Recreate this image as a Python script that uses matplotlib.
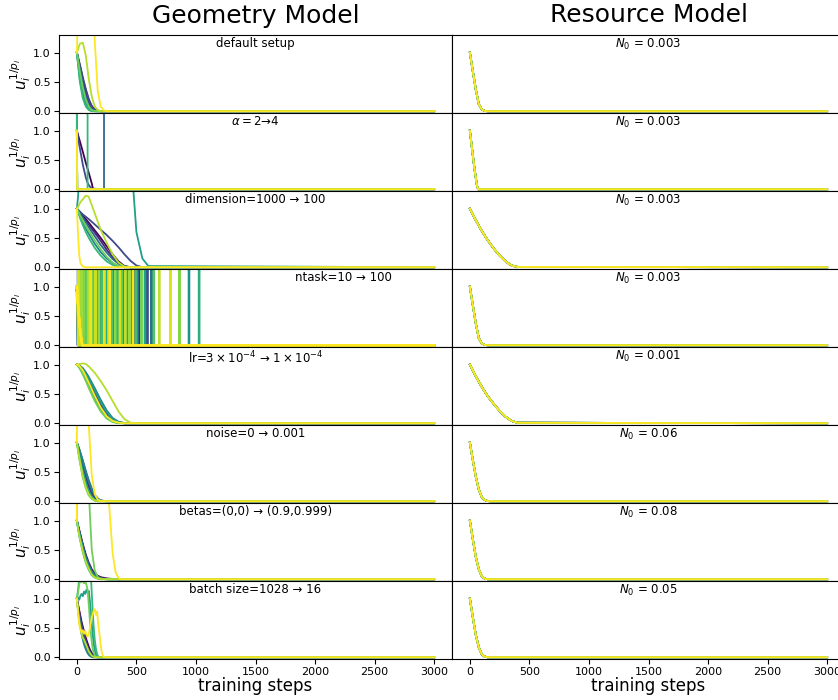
import matplotlib
matplotlib.use("Agg")
import matplotlib.pyplot as plt
import numpy as np

# ---- panel labels -------------------------------------------------------
GEOM_LABELS = [
    "default setup",
    r"$\alpha=2$→4",
    "dimension=1000 → 100",
    "ntask=10 → 100",
    r"lr=$3\times10^{-4}$ → $1\times10^{-4}$",
    "noise=0 → 0.001",
    "betas=(0,0) → (0.9,0.999)",
    "batch size=1028 → 16",
]
# horizontal placement (axes fraction) of each label
GEOM_LABEL_X = [0.5, 0.5, 0.5, 0.723, 0.5, 0.5, 0.5, 0.5]
N0_VALUES = ["0.003", "0.003", "0.003", "0.003", "0.001", "0.06", "0.08", "0.05"]

# ---- geometry model: per-task u_i^{1/p_i} traces (10 tasks per run) -----
DEFAULT_STEPS = [0, 25, 50, 75, 100, 125, 150, 175, 200, 225, 250, 300, 3000]
DEFAULT_U = [
    [1.0, 0.78, 0.55, 0.36, 0.20, 0.09, 0.03, 0.01, 0, 0, 0, 0, 0],
    [1.0, 0.74, 0.50, 0.30, 0.15, 0.06, 0.02, 0.005, 0, 0, 0, 0, 0],
    [1.0, 0.80, 0.58, 0.38, 0.20, 0.08, 0.03, 0.01, 0, 0, 0, 0, 0],
    [1.0, 0.70, 0.45, 0.25, 0.10, 0.03, 0.01, 0, 0, 0, 0, 0, 0],
    [1.0, 0.62, 0.35, 0.17, 0.06, 0.02, 0, 0, 0, 0, 0, 0, 0],
    [1.0, 0.55, 0.28, 0.12, 0.04, 0.01, 0, 0, 0, 0, 0, 0, 0],
    [1.0, 0.50, 0.22, 0.08, 0.02, 0, 0, 0, 0, 0, 0, 0, 0],
    [1.0, 0.68, 0.40, 0.20, 0.08, 0.02, 0.005, 0, 0, 0, 0, 0, 0],
    [1.0, 1.15, 1.17, 0.95, 0.55, 0.25, 0.08, 0.02, 0, 0, 0, 0, 0],
    [1.0, 3.0, 5.0, 5.0, 5.0, 5.0, 1.2, 0.35, 0.08, 0.02, 0, 0, 0],
]

ALPHA_STEPS = [0, 3, 5, 25, 50, 75, 88, 90, 100, 125, 135, 226, 228, 3000]
ALPHA_U = [
    [1.0, 0.98, 0.96, 0.82, 0.64, 0.45, 0.36, 0.35, 0.28, 0.10, 0.01, 0, 0, 0],
    [1.0, 0, 0, 0, 0, 0, 0, 0, 0, 0, 0, 0, 0, 0],
    [1.0, 0.97, 0.94, 0.70, 0.42, 0.20, 0.12, 0.11, 0.07, 0.01, 0, 0, 0, 0],
    [1.0, 1000, 1000, 1000, 1000, 1000, 1000, 1000, 1000, 1000, 1000, 1000, 0, 0],
    [1.0, 0, 0, 0, 0, 0, 0, 0, 0, 0, 0, 0, 0, 0],
    [1.0, 0, 0, 0, 0, 0, 0, 0, 0, 0, 0, 0, 0, 0],
    [1.0, 1000, 1000, 1000, 1000, 1000, 1000, 0, 0, 0, 0, 0, 0, 0],
    [1.0, 0, 0, 0, 0, 0, 0, 0, 0, 0, 0, 0, 0, 0],
    [1.0, 0, 0, 0, 0, 0, 0, 0, 0, 0, 0, 0, 0, 0],
    [1.0, 0, 0, 0, 0, 0, 0, 0, 0, 0, 0, 0, 0, 0],
]

DIM_STEPS = [0, 10, 20, 30, 50, 75, 100, 150, 200, 250, 300, 350, 400, 450, 500, 550, 600, 3000]
DIM_U = [
    [1.0, 0.97, 0.95, 0.93, 0.88, 0.82, 0.76, 0.63, 0.50, 0.36, 0.22, 0.10, 0.02, 0, 0, 0, 0, 0],
    [1.0, 0.97, 0.94, 0.91, 0.86, 0.79, 0.72, 0.59, 0.45, 0.30, 0.17, 0.07, 0.015, 0, 0, 0, 0, 0],
    [1.0, 0.98, 0.96, 0.94, 0.90, 0.86, 0.82, 0.73, 0.64, 0.55, 0.45, 0.34, 0.22, 0.11, 0.03, 0, 0, 0],
    [1.0, 0.97, 0.94, 0.90, 0.84, 0.76, 0.68, 0.53, 0.38, 0.25, 0.14, 0.06, 0.02, 0, 0, 0, 0, 0],
    [1.0, 0.95, 0.90, 0.85, 0.76, 0.66, 0.57, 0.40, 0.26, 0.15, 0.07, 0.02, 0, 0, 0, 0, 0, 0],
    [1.0, 1.2, 1.6, 3.0, 5.0, 5.0, 5.0, 5.0, 5.0, 5.0, 5.0, 5.0, 5.0, 2.0, 0.6, 0.15, 0.02, 0],
    [1.0, 0.94, 0.88, 0.82, 0.72, 0.60, 0.50, 0.33, 0.20, 0.10, 0.04, 0.01, 0, 0, 0, 0, 0, 0],
    [1.0, 0.96, 0.92, 0.87, 0.80, 0.71, 0.62, 0.46, 0.31, 0.18, 0.08, 0.02, 0, 0, 0, 0, 0, 0],
    [1.0, 1.03, 1.07, 1.11, 1.16, 1.22, 1.20, 0.92, 0.64, 0.42, 0.22, 0.08, 0.01, 0, 0, 0, 0, 0],
    [1.0, 0.55, 0.20, 0.07, 0.01, 0, 0, 0, 0, 0, 0, 0, 0, 0, 0, 0, 0, 0],
]

# 100-task run: early decay shared by all tasks, then the step where each task blows up
NTASK_DECAY_STEPS = [0, 15, 30, 45]
NTASK_DECAY_U = [1.0, 0.55, 0.2, 0.0]
NTASK_SPIKES = [
    None, 62, 410, 15, 180, 95, None, 330, 48, 255,
    140, None, 520, 72, 365, 22, 205, 118, None, 445,
    88, 300, 160, None, 590, 35, 238, 128, 480, 55,
    190, None, 350, 102, 270, 8, 625, 150, 395, None,
    78, 220, 455, 42, 172, 315, None, 112, 505, 260,
    940, 66, 385, 198, 28, 282, 135, None, 570, 92,
    425, 245, 52, 1025, 165, 340, 108, None, 212, 495,
    18, 290, 645, 145, None, 375, 82, 230, 540, 125,
    60, 860, 320, 185, 440, 38, 265, None, 98, 690,
    405, 155, 12, 360, 785, 228, 115, 470, None, 275,
]

LR_STEPS = [0, 25, 50, 75, 100, 150, 200, 250, 300, 350, 400, 450, 500, 3000]
LR_U = [
    [1.0, 0.97, 0.91, 0.82, 0.72, 0.50, 0.30, 0.14, 0.05, 0.01, 0, 0, 0, 0],
    [1.0, 0.96, 0.89, 0.80, 0.70, 0.48, 0.28, 0.13, 0.04, 0.01, 0, 0, 0, 0],
    [1.0, 0.97, 0.92, 0.84, 0.75, 0.54, 0.33, 0.16, 0.06, 0.015, 0, 0, 0, 0],
    [1.0, 0.95, 0.87, 0.77, 0.66, 0.44, 0.25, 0.11, 0.03, 0.005, 0, 0, 0, 0],
    [1.0, 0.98, 0.94, 0.87, 0.79, 0.60, 0.40, 0.22, 0.09, 0.025, 0.005, 0, 0, 0],
    [1.0, 0.97, 0.92, 0.84, 0.76, 0.56, 0.36, 0.19, 0.07, 0.02, 0, 0, 0, 0],
    [1.0, 0.94, 0.85, 0.74, 0.63, 0.41, 0.23, 0.10, 0.03, 0.005, 0, 0, 0, 0],
    [1.0, 0.93, 0.83, 0.72, 0.60, 0.38, 0.20, 0.08, 0.02, 0, 0, 0, 0, 0],
    [1.0, 1.01, 1.02, 1.01, 0.97, 0.86, 0.72, 0.56, 0.38, 0.20, 0.07, 0.01, 0, 0],
    [1.0, 0.97, 0.90, 0.80, 0.69, 0.47, 0.27, 0.12, 0.04, 0.01, 0, 0, 0, 0],
]

NOISE_STEPS = [0, 10, 25, 50, 75, 95, 100, 125, 150, 175, 200, 250, 3000]
NOISE_U = [
    [1.0, 0.93, 0.82, 0.62, 0.43, 0.30, 0.27, 0.15, 0.07, 0.03, 0.01, 0, 0],
    [1.0, 0.92, 0.80, 0.60, 0.41, 0.28, 0.25, 0.13, 0.06, 0.02, 0.005, 0, 0],
    [1.0, 0.94, 0.85, 0.68, 0.50, 0.37, 0.34, 0.20, 0.10, 0.04, 0.01, 0, 0],
    [1.0, 0.94, 0.84, 0.66, 0.48, 0.35, 0.32, 0.18, 0.09, 0.03, 0.01, 0, 0],
    [1.0, 0.95, 0.86, 0.70, 0.52, 0.39, 0.36, 0.22, 0.11, 0.05, 0.015, 0, 0],
    [1.0, 0.90, 0.75, 0.52, 0.33, 0.20, 0.18, 0.08, 0.03, 0.01, 0, 0, 0],
    [1.0, 0.88, 0.70, 0.45, 0.26, 0.15, 0.13, 0.05, 0.015, 0, 0, 0, 0],
    [1.0, 0.86, 0.67, 0.40, 0.22, 0.12, 0.10, 0.04, 0.01, 0, 0, 0, 0],
    [1.0, 0.87, 0.69, 0.43, 0.24, 0.14, 0.12, 0.05, 0.015, 0, 0, 0, 0],
    [1.0, 4.0, 6.0, 6.0, 6.0, 6.0, 1.3, 0.45, 0.12, 0.03, 0.005, 0, 0],
]

BETAS_STEPS = [0, 5, 10, 25, 50, 75, 100, 105, 125, 150, 175, 200, 250, 270, 300, 325, 350, 375, 3000]
BETAS_U = [
    [1.0, 0.96, 0.92, 0.80, 0.60, 0.42, 0.28, 0.26, 0.17, 0.10, 0.06, 0.035, 0.015, 0.01, 0.005, 0.002, 0, 0, 0],
    [1.0, 0.95, 0.90, 0.77, 0.56, 0.38, 0.24, 0.22, 0.13, 0.07, 0.035, 0.015, 0.005, 0, 0, 0, 0, 0, 0],
    [1.0, 0.96, 0.92, 0.79, 0.58, 0.40, 0.26, 0.24, 0.15, 0.08, 0.04, 0.02, 0.005, 0, 0, 0, 0, 0, 0],
    [1.0, 0.95, 0.89, 0.75, 0.53, 0.35, 0.21, 0.19, 0.11, 0.05, 0.02, 0.008, 0, 0, 0, 0, 0, 0, 0],
    [1.0, 0.95, 0.90, 0.76, 0.55, 0.37, 0.23, 0.21, 0.12, 0.06, 0.03, 0.01, 0, 0, 0, 0, 0, 0, 0],
    [1.0, 0.94, 0.88, 0.72, 0.50, 0.32, 0.19, 0.17, 0.09, 0.04, 0.015, 0.005, 0, 0, 0, 0, 0, 0, 0],
    [1.0, 0.93, 0.86, 0.69, 0.46, 0.28, 0.16, 0.14, 0.07, 0.03, 0.01, 0, 0, 0, 0, 0, 0, 0, 0],
    [1.0, 2.5, 5.0, 5.0, 5.0, 5.0, 5.0, 1.3, 0.5, 0.15, 0.04, 0.01, 0, 0, 0, 0, 0, 0, 0],
    [1.0, 0.93, 0.86, 0.70, 0.48, 0.30, 0.18, 0.16, 0.08, 0.035, 0.012, 0.004, 0, 0, 0, 0, 0, 0, 0],
    [1.0, 4.0, 6.0, 6.0, 6.0, 6.0, 6.0, 6.0, 6.0, 6.0, 6.0, 6.0, 6.0, 1.3, 0.45, 0.12, 0.02, 0, 0],
]

BATCH_STEPS = [0, 10, 20, 30, 40, 50, 60, 70, 80, 90, 100, 110, 120, 130, 140, 150,
               160, 170, 180, 190, 200, 210, 220, 230, 250, 3000]
BATCH_U = [
    [1.0, 0.90, 0.80, 0.70, 0.60, 0.52, 0.44, 0.37, 0.30, 0.24, 0.18, 0.13, 0.09, 0.06, 0.04, 0.02, 0.01, 0.005, 0, 0, 0, 0, 0, 0, 0, 0],
    [1.0, 0.88, 0.77, 0.66, 0.56, 0.47, 0.39, 0.31, 0.24, 0.18, 0.13, 0.09, 0.06, 0.04, 0.02, 0.01, 0.005, 0, 0, 0, 0, 0, 0, 0, 0, 0],
    [1.0, 0.86, 0.74, 0.63, 0.54, 0.45, 0.37, 0.30, 0.24, 0.18, 0.13, 0.09, 0.06, 0.035, 0.02, 0.01, 0, 0, 0, 0, 0, 0, 0, 0, 0, 0],
    [1.0, 0.82, 0.68, 0.56, 0.45, 0.36, 0.28, 0.21, 0.15, 0.10, 0.07, 0.04, 0.02, 0.01, 0, 0, 0, 0, 0, 0, 0, 0, 0, 0, 0, 0],
    [1.0, 0.80, 0.64, 0.50, 0.39, 0.30, 0.22, 0.16, 0.11, 0.07, 0.04, 0.02, 0.01, 0, 0, 0, 0, 0, 0, 0, 0, 0, 0, 0, 0, 0],
    [1.0, 1.02, 0.98, 1.05, 1.08, 1.04, 1.12, 1.08, 1.15, 1.10, 1.13, 0.95, 0.70, 0.45, 0.25, 0.12, 0.05, 0.02, 0, 0, 0, 0, 0, 0, 0, 0],
    [1.0, 1.15, 1.35, 1.50, 1.45, 1.60, 1.50, 1.55, 1.60, 1.50, 1.55, 1.50, 1.30, 0.90, 0.55, 0.30, 0.15, 0.05, 0.01, 0, 0, 0, 0, 0, 0, 0],
    [1.0, 1.10, 1.25, 1.30, 1.28, 1.32, 1.26, 1.30, 1.24, 1.15, 0.90, 0.60, 0.35, 0.18, 0.08, 0.03, 0.01, 0, 0, 0, 0, 0, 0, 0, 0, 0],
    [1.0, 0.80, 0.62, 0.50, 0.40, 0.33, 0.30, 0.25, 0.20, 0.15, 0.10, 0.07, 0.04, 0.02, 0.01, 0, 0, 0, 0, 0, 0, 0, 0, 0, 0, 0],
    [1.0, 0.75, 0.55, 0.48, 0.42, 0.46, 0.40, 0.45, 0.38, 0.35, 0.40, 0.50, 0.62, 0.72, 0.78, 0.82, 0.72, 0.78, 0.55, 0.40, 0.20, 0.08, 0.02, 0.005, 0, 0],
]

# ---- resource model: every task follows the same trace -----------------
RES_STEPS_FAST = [0, 25, 50, 75, 100, 125, 150, 175, 3000]
RES_STEPS_ALPHA = [0, 20, 40, 60, 70, 3000]
RES_STEPS_SLOW = [0, 50, 100, 150, 200, 250, 300, 350, 400, 3000]

RES_DEFAULT = [1.0, 0.68, 0.37, 0.12, 0.03, 0.005, 0, 0, 0]
RES_ALPHA = [1.0, 0.66, 0.33, 0.06, 0, 0]
RES_DIM = [1.0, 0.80, 0.62, 0.46, 0.32, 0.20, 0.10, 0.03, 0.005, 0]
RES_NTASK = [1.0, 0.68, 0.37, 0.12, 0.03, 0.005, 0, 0, 0]
RES_LR = [1.0, 0.80, 0.62, 0.46, 0.33, 0.21, 0.11, 0.04, 0.008, 0]
RES_NOISE = [1.0, 0.70, 0.42, 0.20, 0.07, 0.02, 0.003, 0, 0]
RES_BETAS = [1.0, 0.68, 0.38, 0.17, 0.05, 0.01, 0, 0, 0]
RES_BATCH = [1.0, 0.68, 0.38, 0.17, 0.05, 0.01, 0, 0, 0]


def ntask_curve(spike):
    """Early decay for one task, then a jump off the chart at `spike`."""
    if spike is None:
        return NTASK_DECAY_STEPS + [3000], NTASK_DECAY_U + [0.0]
    steps = [t for t in NTASK_DECAY_STEPS if t < spike]
    vals = NTASK_DECAY_U[:len(steps)]
    return steps + [spike, spike + 1, spike + 3, 3000], vals + [0.0, 1000.0, 0.0, 0.0]


geom_runs = [
    (DEFAULT_STEPS, DEFAULT_U),
    (ALPHA_STEPS, ALPHA_U),
    (DIM_STEPS, DIM_U),
    None,
    (LR_STEPS, LR_U),
    (NOISE_STEPS, NOISE_U),
    (BETAS_STEPS, BETAS_U),
    (BATCH_STEPS, BATCH_U),
]
res_runs = [
    (RES_STEPS_FAST, RES_DEFAULT),
    (RES_STEPS_ALPHA, RES_ALPHA),
    (RES_STEPS_SLOW, RES_DIM),
    (RES_STEPS_FAST, RES_NTASK),
    (RES_STEPS_SLOW, RES_LR),
    (RES_STEPS_FAST, RES_NOISE),
    (RES_STEPS_FAST, RES_BETAS),
    (RES_STEPS_FAST, RES_BATCH),
]

W, H = 838, 700
fig, axes = plt.subplots(
    8, 2, figsize=(W / 100, H / 100), dpi=100, sharex=True, sharey=True,
    gridspec_kw=dict(left=59 / W, right=845 / W, top=1 - 35 / H, bottom=1 - 659 / H,
                     hspace=0, wspace=0),
)

colors10 = plt.cm.viridis(np.linspace(0, 1, 10))
colors100 = plt.cm.viridis(np.linspace(0, 1, 100))
LW = 1.3

for row in range(8):
    ax_g, ax_r = axes[row, 0], axes[row, 1]

    # geometry model
    if geom_runs[row] is None:
        for i, spike in enumerate(NTASK_SPIKES):
            s, v = ntask_curve(spike)
            ax_g.plot(s, v, color=colors100[i], lw=1.6)
    else:
        steps, curves = geom_runs[row]
        for i, vals in enumerate(curves):
            ax_g.plot(steps, vals, color=colors10[i], lw=LW)
    ax_g.text(GEOM_LABEL_X[row], 0.97, GEOM_LABELS[row], transform=ax_g.transAxes,
              ha="center", va="top", fontsize=8.5)
    ax_g.set_ylabel(r"$u_i^{1/p_i}$", fontsize=11)
    ax_g.yaxis.set_label_coords(-0.066, 0.5)

    # resource model
    steps, vals = res_runs[row]
    for i in range(10):
        ax_r.plot(steps, vals, color=colors10[i], lw=LW)
    ax_r.text(0.5, 0.97, r"$N_0$ = " + N0_VALUES[row], transform=ax_r.transAxes,
              ha="center", va="top", fontsize=8.5)

    ax_g.tick_params(labelsize=8, pad=2.5)
    ax_r.tick_params(labelsize=8, pad=2.5, left=False)

axes[0, 0].set_ylim(-0.03, 1.3)
axes[0, 0].set_xlim(-150, 3150)
axes[0, 0].set_yticks([0.0, 0.5, 1.0])
axes[0, 0].set_xticks([0, 500, 1000, 1500, 2000, 2500, 3000])

axes[0, 0].set_title("Geometry Model", fontsize=18, pad=9)
axes[0, 1].set_title("Resource Model", fontsize=18, pad=9)
axes[7, 0].set_xlabel("training steps", fontsize=12, labelpad=0)
axes[7, 1].set_xlabel("training steps", fontsize=12, labelpad=0)

fig.savefig("out.png", dpi=100)
